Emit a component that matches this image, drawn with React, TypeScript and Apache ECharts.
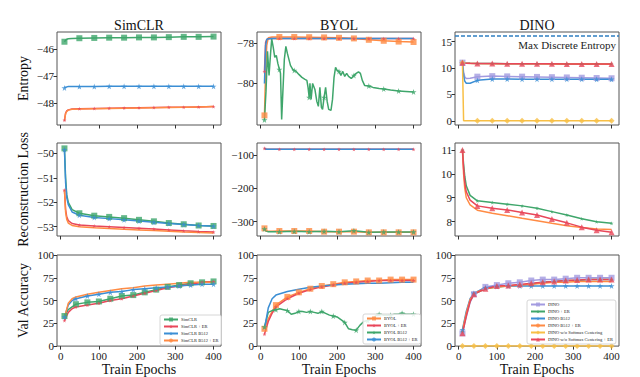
import React, { useEffect, useRef } from "react";
import * as echarts from "echarts";

// ---------- shared x grids ----------
const E_X = [10, 13, 16, 20, 30, 49, 88, 127, 166, 205, 244, 283, 322, 361, 400];
const E_MARK = [10, 49, 88, 127, 166, 205, 244, 283, 322, 361, 400];
const A_X = [10, 20, 30, 40, 70, 100, 130, 160, 190, 220, 250, 280, 310, 340, 370, 400];
const A_MARK = [10, 40, 70, 100, 130, 160, 190, 220, 250, 280, 310, 340, 370, 400];
const X_TICKS = [0, 100, 200, 300, 400];

// ---------- tick values ----------
const Y_TICKS = [
  [-48, -47, -46], [-80, -78], [0, 5, 10, 15],
  [-53, -52, -51, -50], [-300, -200, -100], [8, 9, 10, 11],
  [0, 25, 50, 75, 100], [0, 25, 50, 75, 100], [0, 25, 50, 75, 100],
];
const Y_RANGE = [
  [-48.8, -45.36], [-82.08, -77.43], [-0.8, 16.8],
  [-53.38, -49.58], [-343, -64], [7.4, 11.29],
  [0, 100], [0, 100], [0, 100],
];
const MAX_ENTROPY = 16;

// ---------- titles / labels ----------
const TITLES = ["SimCLR", "BYOL", "DINO"];
const ROW_NAMES = ["Entropy", "Reconstruction Loss", "Val Accuracy"];
const X_NAME = "Train Epochs";

// ---------- SimCLR ----------
const SIMCLR_NAMES = ["SimCLR", "SimCLR + ER", "SimCLR B512", "SimCLR B512 + ER"];
const SIMCLR_ENT_GREEN = [-45.72, -45.66, -45.63, -45.61, -45.6, -45.59, -45.58, -45.57, -45.57, -45.56, -45.56, -45.55, -45.54, -45.54, -45.53];
const SIMCLR_ENT_RED = [-48.62, -48.36, -48.28, -48.24, -48.21, -48.2, -48.19, -48.18, -48.17, -48.16, -48.15, -48.14, -48.14, -48.13, -48.12];
const SIMCLR_ENT_BLUE = [-47.43, -47.4, -47.39, -47.38, -47.38, -47.38, -47.38, -47.37, -47.37, -47.37, -47.37, -47.37, -47.37, -47.37, -47.37];
const SIMCLR_ENT_ORANGE = [-48.65, -48.38, -48.3, -48.25, -48.22, -48.21, -48.2, -48.19, -48.18, -48.17, -48.16, -48.15, -48.14, -48.13, -48.12];
const SIMCLR_REC_GREEN = [-49.8, -51.0, -51.7, -52.0, -52.3, -52.45, -52.55, -52.6, -52.65, -52.72, -52.78, -52.85, -52.9, -52.95, -52.97];
const SIMCLR_REC_RED = [-51.5, -52.3, -52.6, -52.75, -52.87, -52.93, -52.97, -53.0, -53.03, -53.06, -53.09, -53.13, -53.17, -53.2, -53.22];
const SIMCLR_REC_BLUE = [-49.85, -51.2, -51.8, -52.1, -52.4, -52.53, -52.62, -52.67, -52.72, -52.77, -52.82, -52.87, -52.91, -52.95, -52.98];
const SIMCLR_REC_ORANGE = [-51.5, -52.4, -52.7, -52.85, -52.95, -53.0, -53.04, -53.07, -53.1, -53.13, -53.16, -53.19, -53.22, -53.24, -53.26];
const SIMCLR_ACC_GREEN = [33, 40, 43, 46, 48, 49, 52, 55, 56, 59, 62, 65, 67, 69, 70, 71];
const SIMCLR_ACC_RED = [28, 37, 41, 43, 45, 47, 50, 52, 55, 58, 61, 64, 66, 68, 70, 71];
const SIMCLR_ACC_BLUE = [32, 45, 50, 52, 55, 57, 59, 60, 62, 63, 64, 65, 66, 67, 68, 68];
const SIMCLR_ACC_ORANGE = [31, 47, 52, 54, 57, 59, 61, 63, 64, 66, 67, 68, 69, 70, 70, 70];

// ---------- BYOL ----------
const BYOL_NAMES = ["BYOL", "BYOL + ER", "BYOL B512", "BYOL B512 + ER"];
const BYOL_ENT_ORANGE = [-81.6, -79.4, -78.1, -77.72, -77.68, -77.68, -77.68, -77.69, -77.7, -77.72, -77.75, -77.82, -77.87, -77.91, -77.93];
const BYOL_ENT_RED = [-79.4, -77.95, -77.8, -77.77, -77.76, -77.76, -77.76, -77.76, -77.76, -77.76, -77.76, -77.76, -77.76, -77.76, -77.76];
const BYOL_ENT_BLUE = [-80.0, -78.1, -77.8, -77.77, -77.76, -77.76, -77.76, -77.76, -77.76, -77.76, -77.76, -77.75, -77.75, -77.75, -77.75];
const BYOL_ENT_GREEN: [number, number][] = [
  [10, -81.83], [14, -80.4], [18, -78.4], [22, -79.6], [26, -78.5], [29, -77.78], [33, -78.2], [37, -78.7],
  [41, -78.6], [45, -79.0], [49, -79.3], [52, -79.5], [55, -81.8], [58, -80.5], [62, -78.8], [66, -78.15],
  [70, -78.5], [74, -78.8], [78, -79.1], [84, -79.3], [88, -79.35], [93, -79.4], [100, -79.55], [108, -79.7],
  [116, -79.8], [121, -79.85], [124, -80.2], [127, -80.7], [129, -80.0], [132, -80.8], [136, -80.0], [142, -80.3],
  [147, -80.9], [151, -81.15], [155, -80.2], [159, -81.2], [162, -81.3], [166, -80.7], [170, -80.2], [174, -80.9],
  [178, -81.3], [184, -81.35], [188, -80.8], [192, -79.7], [196, -79.2], [200, -79.35], [205, -79.4], [210, -79.6],
  [215, -79.4], [220, -79.65], [225, -79.5], [230, -79.65], [237, -79.75], [244, -79.6], [250, -79.5], [256, -79.42],
  [261, -79.5], [266, -79.85], [272, -80.1], [283, -80.13], [294, -80.2], [310, -80.25], [322, -80.28], [340, -80.33],
  [361, -80.38], [380, -80.4], [400, -80.43],
];
const BYOL_REC_ORANGE = [-320, -326, -328, -329, -329, -328, -328, -328, -330, -330, -330, -332, -332, -332, -332];
const BYOL_REC_RED = [-80, -82, -83, -83, -83, -83, -83, -83, -83, -83, -83, -83, -83, -83, -83];
const BYOL_REC_GREEN = [-322, -327, -329, -330, -330, -330, -329, -330, -329, -330, -327, -332, -331, -331, -331];
const BYOL_REC_BLUE = [-79, -82, -83, -83, -83, -83, -83, -83, -83, -83, -83, -83, -83, -83, -83];
const BYOL_ACC_ORANGE = [19, 30, 38, 45, 54, 59, 63, 66, 68, 70, 71, 72, 72, 73, 73, 73];
const BYOL_ACC_RED = [13, 27, 36, 43, 52, 58, 62, 65, 67, 69, 70, 71, 72, 72, 72, 72];
const BYOL_ACC_BLUE = [19, 42, 52, 56, 60, 62.5, 64.5, 66, 67, 68, 68.5, 69, 69, 69.5, 70, 70];
const BYOL_ACC_GREEN: [number, number][] = [
  [10, 21], [20, 37], [30, 39], [40, 40], [50, 41], [60, 40], [70, 39], [80, 35], [90, 36], [100, 38],
  [110, 38], [120, 37], [130, 38], [140, 37], [150, 36], [160, 38], [170, 36], [180, 34], [190, 33], [200, 32],
  [210, 29], [220, 26], [230, 19], [240, 18], [250, 17.5], [260, 23], [270, 27], [280, 28], [290, 30], [300, 33],
  [310, 35], [320, 34], [330, 34], [340, 34], [350, 35], [360, 35], [370, 36], [380, 35], [390, 35], [400, 35],
];

// ---------- DINO ----------
const DINO_NAMES = ["DINO", "DINO + ER", "DINO B512", "DINO B512 + ER", "DINO w/o Softmax Centering", "DINO w/o Softmax Centering + ER"];
const DINO_ENT_PURPLE = [11, 9.2, 8.3, 8.0, 8.05, 8.35, 8.45, 8.4, 8.35, 8.3, 8.25, 8.2, 8.15, 8.1, 8.05];
const DINO_ENT_GREEN = [11, 10.95, 10.92, 10.9, 10.87, 10.84, 10.82, 10.8, 10.79, 10.78, 10.77, 10.76, 10.75, 10.74, 10.73];
const DINO_ENT_BLUE = [11, 8.6, 7.5, 7.1, 7.1, 7.65, 7.9, 7.9, 7.88, 7.88, 7.87, 7.86, 7.86, 7.85, 7.85];
const DINO_ENT_ORANGE = [11, 10.94, 10.9, 10.88, 10.85, 10.83, 10.81, 10.8, 10.78, 10.77, 10.76, 10.75, 10.74, 10.73, 10.72];
const DINO_ENT_YELLOW = [11, 0, 0, 0, 0, 0, 0, 0, 0, 0, 0, 0, 0, 0, 0];
const DINO_ENT_RED = [11, 10.96, 10.93, 10.9, 10.87, 10.84, 10.82, 10.8, 10.79, 10.78, 10.77, 10.76, 10.75, 10.74, 10.73];
const DINO_REC_GREEN = [11, 10.4, 9.9, 9.5, 9.1, 8.87, 8.8, 8.73, 8.66, 8.56, 8.42, 8.28, 8.12, 8.0, 7.93];
const DINO_REC_ORANGE = [11, 10.0, 9.4, 9.0, 8.7, 8.48, 8.35, 8.25, 8.14, 8.04, 7.93, 7.83, 7.76, 7.69, 7.67];
const DINO_REC_RED = [11, 10.2, 9.65, 9.25, 8.9, 8.66, 8.56, 8.49, 8.38, 8.28, 8.11, 7.95, 7.77, 7.64, 7.56];
const DINO_ACC_PURPLE = [14, 32, 48, 57, 65, 67, 69, 70, 72, 73, 73, 74, 75, 75, 75, 75];
const DINO_ACC_GREEN = [16, 35, 50, 57, 63, 65, 66, 67, 68, 70, 71, 72, 72, 73, 73, 73];
const DINO_ACC_BLUE = [18, 38, 52, 58, 64, 65.5, 66, 66, 66, 66, 66, 66, 66, 66, 66, 66];
const DINO_ACC_ORANGE = [17, 36, 51, 58, 63, 65, 66, 67, 68, 69, 70, 70, 71, 71, 71, 71];
const DINO_ACC_YELLOW = [0.2, 0.2, 0.2, 0.2, 0.2, 0.2, 0.2, 0.2, 0.2, 0.2, 0.2, 0.2, 0.2, 0.2, 0.2, 0.2];
const DINO_ACC_RED = [14, 33, 49, 57, 63, 66, 66.5, 67.5, 69, 70, 71, 72, 72.5, 73, 73, 73];

// ---------- style ----------
const FONT = "Liberation Serif, serif";
const GREEN = "#3fa66b";
const RED = "#e8475a";
const BLUE = "#3b8ed4";
const ORANGE = "#ff8b44";
const PURPLE = "#a39be0";
const YELLOW = "#f8bf45";
const STAR = "path://M50,0 L61,35 L98,35 L68,57 L79,91 L50,70 L21,91 L32,57 L2,35 L39,35 Z";

const GRID_LEFT = [57, 257, 455];
const GRID_TOP = [32, 143, 255];
const GRID_W = 164;
const GRID_H = [93, 93, 92];

const fmt = (v: number) => String(v).replace("-", "\u2212");

const pts = (xs: number[], ys: number[], marks: number[]) =>
  xs.map((x, i) => (marks.indexOf(x) >= 0 ? { value: [x, ys[i]] } : { value: [x, ys[i]], symbol: "none" }));
const pairPts = (pairs: [number, number][], marks: number[]) =>
  pairs.map(([x, y]) => (marks.indexOf(x) >= 0 ? { value: [x, y] } : { value: [x, y], symbol: "none" }));

const line = (name: string, color: string, symbol: string, size: number, gi: number, data: any[], extra: any = {}) => ({
  type: "line",
  name,
  xAxisIndex: gi,
  yAxisIndex: gi,
  data,
  symbol,
  symbolSize: size,
  showAllSymbol: true,
  lineStyle: { color, width: 1.5 },
  itemStyle: { color, opacity: 0.8 },
  emphasis: { disabled: true },
  silent: true,
  ...extra,
});

export default function App() {
  const ref = useRef<HTMLDivElement>(null);
  useEffect(() => {
    if (!ref.current) return;
    const chart = echarts.init(ref.current, undefined, { renderer: "svg" });
    const grids: any[] = [];
    const xAxes: any[] = [];
    const yAxes: any[] = [];
    for (let r = 0; r < 3; r++) {
      for (let c = 0; c < 3; c++) {
        const gi = r * 3 + c;
        grids.push({
          left: GRID_LEFT[c], top: GRID_TOP[r], width: GRID_W, height: GRID_H[r],
          show: true, borderColor: "#555", borderWidth: 1, backgroundColor: "transparent",
        });
        xAxes.push({
          type: "value", gridIndex: gi, min: -9.5, max: 419.5,
          axisLine: { show: false, onZero: false },
          axisTick: { show: true, inside: false, length: 3.5, lineStyle: { color: "#333" }, customValues: X_TICKS },
          axisLabel: {
            show: r === 2, customValues: X_TICKS, fontSize: 11, fontFamily: FONT, color: "#222", margin: 4,
            formatter: fmt,
          },
          splitLine: { show: false },
          name: r === 2 ? X_NAME : "",
          nameLocation: "middle",
          nameGap: 13,
          nameTextStyle: { fontSize: 14, fontFamily: FONT, color: "#111" },
        });
        yAxes.push({
          type: "value", gridIndex: gi, min: Y_RANGE[gi][0], max: Y_RANGE[gi][1],
          axisLine: { show: false, onZero: false },
          axisTick: { show: true, inside: false, length: 3.5, lineStyle: { color: "#333" }, customValues: Y_TICKS[gi] },
          axisLabel: {
            show: true, customValues: Y_TICKS[gi], fontSize: 11, fontFamily: FONT, color: "#222", margin: 3,
            formatter: fmt,
          },
          splitLine: { show: false },
          name: c === 0 ? ROW_NAMES[r] : "",
          nameLocation: "middle",
          nameGap: 27,
          nameTextStyle: { fontSize: 14, fontFamily: FONT, color: "#111" },
        });
      }
    }

    const series: any[] = [
      // SimCLR entropy (grid 0)
      line(SIMCLR_NAMES[0], GREEN, "rect", 6, 0, pts(E_X, SIMCLR_ENT_GREEN, E_MARK)),
      line(SIMCLR_NAMES[1], RED, STAR, 4, 0, pts(E_X, SIMCLR_ENT_RED, E_MARK)),
      line(SIMCLR_NAMES[2], BLUE, STAR, 6, 0, pts(E_X, SIMCLR_ENT_BLUE, E_MARK)),
      line(SIMCLR_NAMES[3], ORANGE, "none", 0, 0, pts(E_X, SIMCLR_ENT_ORANGE, E_MARK)),
      // BYOL entropy (grid 1)
      line(BYOL_NAMES[0], ORANGE, "rect", 6, 1, pts(E_X, BYOL_ENT_ORANGE, E_MARK)),
      line(BYOL_NAMES[1], RED, STAR, 4, 1, pts(E_X, BYOL_ENT_RED, E_MARK)),
      line(BYOL_NAMES[2], GREEN, STAR, 6, 1, pairPts(BYOL_ENT_GREEN, E_MARK)),
      line(BYOL_NAMES[3], BLUE, "none", 0, 1, pts(E_X, BYOL_ENT_BLUE, E_MARK)),
      // DINO entropy (grid 2)
      line(DINO_NAMES[0], PURPLE, "rect", 6, 2, pts(E_X, DINO_ENT_PURPLE, E_MARK), {
        markLine: {
          silent: true, symbol: "none", animation: false,
          data: [{ yAxis: MAX_ENTROPY }],
          lineStyle: { type: [4, 2], color: "#2f7fc1", width: 1.5 },
          label: {
            show: true, position: "insideEndBottom", formatter: "Max Discrete Entropy",
            fontSize: 11, fontFamily: FONT, color: "#222", distance: 3,
          },
        },
      }),
      line(DINO_NAMES[1], GREEN, STAR, 4, 2, pts(E_X, DINO_ENT_GREEN, E_MARK)),
      line(DINO_NAMES[2], BLUE, STAR, 6, 2, pts(E_X, DINO_ENT_BLUE, E_MARK)),
      line(DINO_NAMES[3], ORANGE, "none", 0, 2, pts(E_X, DINO_ENT_ORANGE, E_MARK)),
      line(DINO_NAMES[4], YELLOW, "diamond", 6, 2, pts(E_X, DINO_ENT_YELLOW, E_MARK)),
      line(DINO_NAMES[5], RED, "triangle", 6, 2, pts(E_X, DINO_ENT_RED, E_MARK)),
      // SimCLR recon (grid 3)
      line(SIMCLR_NAMES[0], GREEN, "rect", 6, 3, pts(E_X, SIMCLR_REC_GREEN, E_MARK)),
      line(SIMCLR_NAMES[1], RED, STAR, 4, 3, pts(E_X, SIMCLR_REC_RED, E_MARK)),
      line(SIMCLR_NAMES[2], BLUE, STAR, 6, 3, pts(E_X, SIMCLR_REC_BLUE, E_MARK)),
      line(SIMCLR_NAMES[3], ORANGE, "none", 0, 3, pts(E_X, SIMCLR_REC_ORANGE, E_MARK)),
      // BYOL recon (grid 4)
      line(BYOL_NAMES[0], ORANGE, "rect", 6, 4, pts(E_X, BYOL_REC_ORANGE, E_MARK)),
      line(BYOL_NAMES[1], RED, STAR, 4, 4, pts(E_X, BYOL_REC_RED, E_MARK)),
      line(BYOL_NAMES[2], GREEN, STAR, 6, 4, pts(E_X, BYOL_REC_GREEN, E_MARK)),
      line(BYOL_NAMES[3], BLUE, "none", 0, 4, pts(E_X, BYOL_REC_BLUE, E_MARK)),
      // DINO recon (grid 5)
      line(DINO_NAMES[1], GREEN, STAR, 4, 5, pts(E_X, DINO_REC_GREEN, E_MARK)),
      line(DINO_NAMES[3], ORANGE, "none", 0, 5, pts(E_X, DINO_REC_ORANGE, E_MARK)),
      line(DINO_NAMES[5], RED, "triangle", 6, 5, pts(E_X, DINO_REC_RED, E_MARK)),
      // SimCLR acc (grid 6)
      line(SIMCLR_NAMES[0], GREEN, "rect", 6, 6, pts(A_X, SIMCLR_ACC_GREEN, A_MARK)),
      line(SIMCLR_NAMES[1], RED, STAR, 4, 6, pts(A_X, SIMCLR_ACC_RED, A_MARK)),
      line(SIMCLR_NAMES[2], BLUE, STAR, 6, 6, pts(A_X, SIMCLR_ACC_BLUE, A_MARK)),
      line(SIMCLR_NAMES[3], ORANGE, "none", 0, 6, pts(A_X, SIMCLR_ACC_ORANGE, A_MARK)),
      // BYOL acc (grid 7)
      line(BYOL_NAMES[0], ORANGE, "rect", 6, 7, pts(A_X, BYOL_ACC_ORANGE, A_MARK)),
      line(BYOL_NAMES[1], RED, STAR, 4, 7, pts(A_X, BYOL_ACC_RED, A_MARK)),
      line(BYOL_NAMES[2], GREEN, STAR, 6, 7, pairPts(BYOL_ACC_GREEN, A_MARK)),
      line(BYOL_NAMES[3], BLUE, "none", 0, 7, pts(A_X, BYOL_ACC_BLUE, A_MARK)),
      // DINO acc (grid 8)
      line(DINO_NAMES[0], PURPLE, "rect", 6, 8, pts(A_X, DINO_ACC_PURPLE, A_MARK)),
      line(DINO_NAMES[1], GREEN, STAR, 4, 8, pts(A_X, DINO_ACC_GREEN, A_MARK)),
      line(DINO_NAMES[2], BLUE, STAR, 6, 8, pts(A_X, DINO_ACC_BLUE, A_MARK)),
      line(DINO_NAMES[3], ORANGE, "none", 0, 8, pts(A_X, DINO_ACC_ORANGE, A_MARK)),
      line(DINO_NAMES[4], YELLOW, "diamond", 6, 8, pts(A_X, DINO_ACC_YELLOW, A_MARK)),
      line(DINO_NAMES[5], RED, "triangle", 6, 8, pts(A_X, DINO_ACC_RED, A_MARK)),
    ];

    const legendBase = {
      orient: "vertical",
      itemWidth: 14,
      itemHeight: 5,
      itemGap: 2,
      padding: [2, 3, 2, 3],
      borderColor: "#cccccc",
      borderWidth: 0.8,
      borderRadius: 2,
      backgroundColor: "rgba(255,255,255,0.85)",
      textStyle: { fontSize: 4.5, fontFamily: FONT, color: "#222", padding: [0, 0, 0, -2] },
      selectedMode: false,
    };

    chart.setOption({
      animation: false,
      grid: grids,
      xAxis: xAxes,
      yAxis: yAxes,
      series,
      legend: [
        { ...legendBase, data: SIMCLR_NAMES, left: 160, top: 315 },
        { ...legendBase, data: BYOL_NAMES, left: 363, top: 314 },
        { ...legendBase, data: DINO_NAMES, left: 527, top: 300 },
      ],
      graphic: TITLES.map((t, c) => ({
        type: "text",
        x: GRID_LEFT[c] + GRID_W / 2,
        y: 25,
        style: { text: t, align: "center", verticalAlign: "middle", fontSize: 14, fontFamily: FONT, fill: "#111" },
      })),
    });
    return () => chart.dispose();
  }, []);
  return (
    <div
      ref={ref}
      style={{ position: "fixed", left: 0, top: 0, width: 640, height: 377, background: "#fff" }}
    />
  );
}
